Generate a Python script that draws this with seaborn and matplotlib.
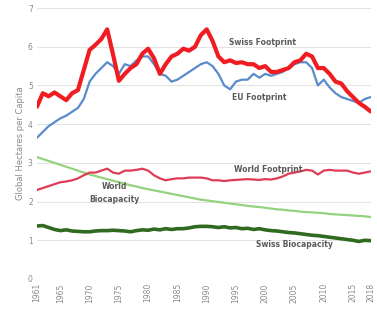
import numpy as np
import pandas as pd
import seaborn as sns
import matplotlib.pyplot as plt

# DATA (global hectares per capita, 1961-2018)

years = list(range(1961, 2019))

swiss_footprint = [4.45, 4.8, 4.72, 4.82, 4.72, 4.62, 4.8, 4.88, 5.4, 5.92,
                   6.05, 6.2, 6.45, 5.8, 5.12, 5.3, 5.45, 5.55, 5.82, 5.95,
                   5.7, 5.3, 5.55, 5.75, 5.82, 5.95, 5.9, 6.0, 6.3, 6.45,
                   6.15, 5.75, 5.6, 5.65, 5.58, 5.6, 5.55, 5.55, 5.45, 5.5,
                   5.35, 5.35, 5.4, 5.45, 5.6, 5.65, 5.82, 5.75, 5.45, 5.45,
                   5.3, 5.1, 5.05, 4.85, 4.7, 4.55, 4.45, 4.33]

eu_footprint = [3.65, 3.8, 3.95, 4.05, 4.15, 4.22, 4.32, 4.42, 4.65, 5.1,
                5.3, 5.45, 5.6, 5.5, 5.3, 5.55, 5.5, 5.65, 5.75, 5.75,
                5.55, 5.3, 5.25, 5.1, 5.15, 5.25, 5.35, 5.45, 5.55, 5.6,
                5.5, 5.3, 5.0, 4.9, 5.1, 5.15, 5.15, 5.3, 5.2, 5.3,
                5.25, 5.3, 5.35, 5.45, 5.55, 5.6, 5.6, 5.45, 5.0, 5.15,
                4.95, 4.8, 4.7, 4.65, 4.6, 4.55, 4.65, 4.7]

world_footprint = [2.3, 2.35, 2.4, 2.45, 2.5, 2.52, 2.55, 2.6, 2.68, 2.75,
                   2.75, 2.8, 2.85, 2.75, 2.72, 2.8, 2.8, 2.82, 2.85, 2.8,
                   2.68, 2.6, 2.55, 2.58, 2.6, 2.6, 2.62, 2.62, 2.62, 2.6,
                   2.55, 2.55, 2.53, 2.55, 2.56, 2.57, 2.58, 2.57, 2.56, 2.58,
                   2.57, 2.6, 2.65, 2.72, 2.75, 2.78, 2.82, 2.8, 2.7, 2.8,
                   2.82, 2.8, 2.8, 2.8, 2.75, 2.72, 2.75, 2.78]

world_biocapacity = [3.15, 3.1, 3.05, 3.0, 2.95, 2.9, 2.85, 2.8, 2.75, 2.7,
                     2.66, 2.62, 2.58, 2.54, 2.5, 2.46, 2.42, 2.39, 2.35, 2.32,
                     2.29, 2.26, 2.23, 2.2, 2.17, 2.14, 2.11, 2.08, 2.05, 2.03,
                     2.01, 1.99, 1.97, 1.95, 1.93, 1.91, 1.89, 1.87, 1.86, 1.84,
                     1.82, 1.8, 1.79, 1.77, 1.76, 1.74, 1.73, 1.72, 1.71, 1.7,
                     1.68, 1.67, 1.66, 1.65, 1.64, 1.63, 1.62, 1.6]

swiss_biocapacity = [1.37, 1.38, 1.33, 1.28, 1.25, 1.27, 1.24, 1.23, 1.22, 1.22,
                     1.24, 1.25, 1.25, 1.26, 1.25, 1.24, 1.22, 1.25, 1.27, 1.26,
                     1.29, 1.27, 1.3, 1.28, 1.3, 1.3, 1.32, 1.35, 1.36, 1.36,
                     1.35, 1.33, 1.35, 1.32, 1.33, 1.3, 1.31, 1.28, 1.3, 1.27,
                     1.25, 1.24, 1.22, 1.2, 1.19, 1.17, 1.15, 1.13, 1.12, 1.1,
                     1.08, 1.06, 1.04, 1.02, 1.0, 0.97, 1.0, 0.99]

tick_years = [1961, 1965, 1970, 1975, 1980, 1985, 1990, 1995, 2000, 2005, 2010, 2015, 2018]

# long table for seaborn
series = {
    'World Biocapacity': world_biocapacity,
    'Swiss Biocapacity': swiss_biocapacity,
    'World Footprint': world_footprint,
    'EU Footprint': eu_footprint,
    'Swiss Footprint': swiss_footprint,
}
df = pd.concat([pd.DataFrame({'year': years, 'value': v, 'series': k})
                for k, v in series.items()], ignore_index=True)

styles = {
    'World Biocapacity': ('#95d27e', 1.6),
    'Swiss Biocapacity': ('#2f6a1f', 2.6),
    'World Footprint': ('#df3c56', 1.6),
    'EU Footprint': ('#5a8bcb', 1.6),
    'Swiss Footprint': ('#f01c22', 3.0),
}

sns.set_style('white')
fig = plt.figure(figsize=(3.77, 3.10), dpi=100)
ax = fig.add_axes([0.098, 0.1, 0.885, 0.874])

for name in series:
    color, lw = styles[name]
    sns.lineplot(data=df[df['series'] == name], x='year', y='value',
                 color=color, linewidth=lw, ax=ax, legend=False)

ax.set_xlim(1961, 2018)
ax.set_ylim(0, 7)
ax.set_yticks(range(0, 8))
ax.set_xticks(tick_years)
ax.set_xticklabels([str(y) for y in tick_years], rotation=90)
ax.tick_params(axis='both', labelsize=5.5, colors='#8a8a8a', length=0, pad=3)
ax.grid(axis='y', color='#e3e3e3', linewidth=0.8)
ax.set_axisbelow(True)
for s in ax.spines.values():
    s.set_visible(False)

ax.set_xlabel('')
ax.set_ylabel('Global Hectares per Capita', fontsize=6, color='#8a8a8a', labelpad=2)

lab = dict(fontsize=5.5, color='#5a5a5a', fontweight='bold', ha='center', va='center')
ax.text(1999.5, 6.12, 'Swiss Footprint', **lab)
ax.text(1999, 4.7, 'EU Footprint', **lab)
ax.text(2000.5, 2.83, 'World Footprint', **lab)
ax.text(1974.3, 2.22, 'World\nBiocapacity', linespacing=1.6, **lab)
ax.text(2005, 0.9, 'Swiss Biocapacity', **lab)

plt.savefig('out.png', dpi=100)
